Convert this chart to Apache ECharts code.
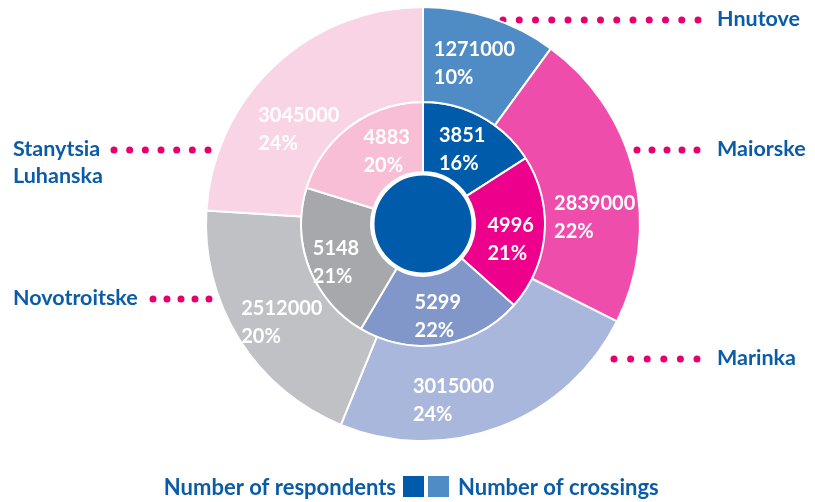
<!DOCTYPE html>
<html>
<head>
<meta charset="utf-8">
<title>Crossings and respondents by checkpoint</title>
<script src="https://cdn.jsdelivr.net/npm/echarts@6/dist/echarts.min.js"></script>
<style>
  html, body { margin: 0; padding: 0; background: #fff; }
  #chart { width: 815px; height: 502px; }
</style>
</head>
<body>
<div id="chart"></div>
<script>
// checkpoints, clockwise from 12 o'clock
const checkpoints = ['Hnutove', 'Maiorske', 'Marinka', 'Novotroitske', 'Stanytsia Luhanska'];
const crossings = [1271000, 2839000, 3015000, 2512000, 3045000];
const respondents = [3851, 4996, 5299, 5148, 4883];

const crossingColors = ['#4f8bc4', '#ef4dac', '#a8b7db', '#c0c1c5', '#f9d4e5'];
const respondentColors = ['#005baa', '#ec008c', '#8197ca', '#a7a8ac', '#f7bed6'];

// nudges so the value labels sit where the original has them
const crossingLabelShift = [[-2, 4], [4, 34], [-30, 15], [5, 7], [-6, 31]];
const respondentLabelShift = [[-4, 5], [-2, 8], [1, 4], [-3, 6], [17, 0]];

const BLUE_TEXT = '#0b5ca8';
const DOT = '#e6006f';
const FONT = 'Lato';
const CENTER = [423, 224];

function pieData(values, colors, shifts) {
  return values.map((v, i) => ({
    name: checkpoints[i],
    value: v,
    itemStyle: { color: colors[i] },
    label: { offset: shifts[i] }
  }));
}

// value on top, share below, both lines flush left
const valueLabel = {
  show: true,
  position: 'inside',
  formatter: '{v|{c}}\n{v|{d}%}',
  rich: {
    v: {
      align: 'left',
      color: '#fff',
      fontFamily: FONT,
      fontWeight: 'bold',
      fontSize: 20,
      lineHeight: 28
    }
  }
};

// callouts: text + dotted leader
const callouts = [
  { text: 'Hnutove', tx: 717, ty: 19, x1: 503, x2: 698, y: 20, gap: 16.25 },
  { text: 'Maiorske', tx: 717, ty: 149, x1: 637, x2: 697, y: 150, gap: 15 },
  { text: 'Marinka', tx: 717, ty: 358, x1: 614, x2: 697, y: 359, gap: 16.6 },
  { text: 'Stanytsia\nLuhanska', tx: 13, ty: 163, x1: 114, x2: 208, y: 150, gap: 15.67 },
  { text: 'Novotroitske', tx: 13, ty: 298, x1: 153, x2: 209, y: 299, gap: 14 }
];

const graphics = [];
callouts.forEach(c => {
  graphics.push({
    type: 'text',
    x: c.tx,
    y: c.ty,
    silent: true,
    style: {
      text: c.text,
      fill: BLUE_TEXT,
      font: 'bold 21.5px ' + FONT,
      lineHeight: 27,
      align: 'left',
      verticalAlign: 'middle'
    }
  });
  graphics.push({
    type: 'line',
    silent: true,
    shape: { x1: c.x1, y1: c.y, x2: c.x2 + 0.1, y2: c.y },
    style: {
      stroke: DOT,
      lineWidth: 7,
      lineCap: 'round',
      lineDash: [0, c.gap]
    }
  });
});

// legend row at the bottom
graphics.push(
  {
    type: 'text', x: 396, y: 488, silent: true,
    style: { text: 'Number of respondents', fill: BLUE_TEXT, font: 'bold 22px ' + FONT, align: 'right', verticalAlign: 'middle' }
  },
  { type: 'rect', silent: true, shape: { x: 403, y: 476, width: 21, height: 21 }, style: { fill: respondentColors[0] } },
  { type: 'rect', silent: true, shape: { x: 428, y: 476, width: 21, height: 21 }, style: { fill: crossingColors[0] } },
  {
    type: 'text', x: 458, y: 488, silent: true,
    style: { text: 'Number of crossings', fill: BLUE_TEXT, font: 'bold 22px ' + FONT, align: 'left', verticalAlign: 'middle' }
  }
);

const chart = echarts.init(document.getElementById('chart'));
chart.setOption({
  animation: false,
  graphic: graphics,
  series: [
    {
      name: 'Number of respondents',
      type: 'pie',
      center: CENTER,
      radius: [52, 122],
      startAngle: 90,
      percentPrecision: 0,
      silent: true,
      labelLine: { show: false },
      itemStyle: { borderColor: '#fff', borderWidth: 2 },
      label: valueLabel,
      data: pieData(respondents, respondentColors, respondentLabelShift)
    },
    {
      name: 'Number of crossings',
      type: 'pie',
      center: CENTER,
      radius: [122, 217],
      startAngle: 90,
      percentPrecision: 0,
      silent: true,
      labelLine: { show: false },
      itemStyle: { borderColor: '#fff', borderWidth: 2 },
      label: valueLabel,
      data: pieData(crossings, crossingColors, crossingLabelShift)
    },
    {
      // solid disc in the middle
      type: 'pie',
      center: CENTER,
      radius: [0, 50],
      silent: true,
      label: { show: false },
      labelLine: { show: false },
      itemStyle: { color: respondentColors[0], borderColor: '#fff', borderWidth: 3 },
      data: [{ name: 'centre', value: 1 }]
    }
  ]
});
</script>
</body>
</html>
